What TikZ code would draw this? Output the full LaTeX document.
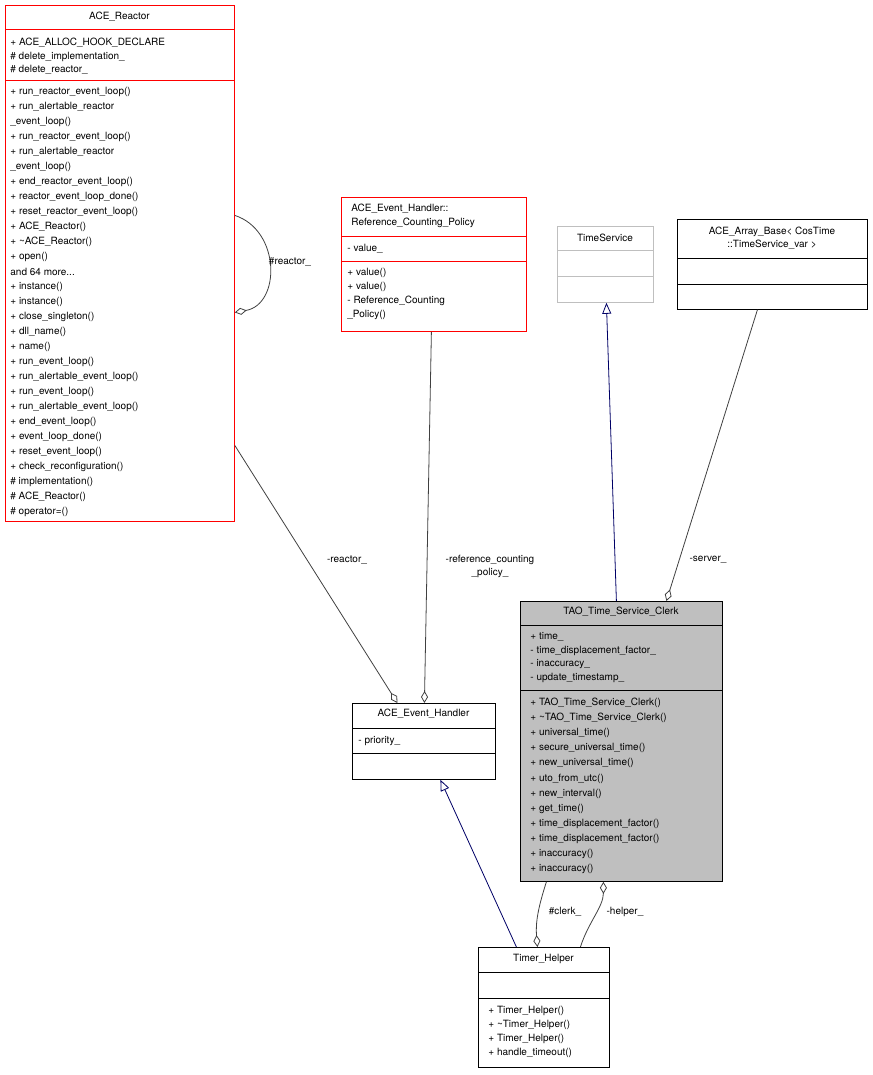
\documentclass[tikz,border=0pt]{standalone}
\usepackage{fontspec}
\setmainfont{TeX Gyre Heros}
\usetikzlibrary{arrows.meta,calc}

\tikzset{
  cls/.style={draw, rectangle, anchor=north west, inner sep=0pt},
  mem/.style={anchor=west, inner sep=0pt, font=\fontsize{10}{11}\selectfont},
  ttl/.style={anchor=center, inner sep=0pt, align=center, font=\fontsize{10}{13.5}\selectfont},
  lbl/.style={inner sep=0pt, align=center, font=\fontsize{10}{13}\selectfont},
  assoc/.style={draw=black!75, -{Diamond[open,length=12pt,width=7pt]}},
  inherit/.style={draw=blue!40!black, -{Triangle[open,length=11pt,width=9pt]}},
}
\newcommand{\andmore}{and 64 more...}

\begin{document}
\begin{tikzpicture}[x=1pt,y=-1pt,line width=0.8pt]
\useasboundingbox (0,0) rectangle (872,1075);

% ACE_Reactor
\node[cls, draw=red, minimum width=229pt, minimum height=516pt] (reactor) at (5,5) {};
\node[ttl] (reactorT) at (119.5,17) {ACE\_Reactor};
\draw[red] (5,29) -- (234,29) (5,80) -- (234,80);
\foreach \t [count=\i from 0] in {+ ACE\_ALLOC\_HOOK\_DECLARE, \# delete\_implementation\_, \# delete\_reactor\_}
  \node[mem] at (10,43+13.5*\i) {\t};
\foreach \t [count=\i from 0] in {+ run\_reactor\_event\_loop(), + run\_alertable\_reactor, \_event\_loop(),
  + run\_reactor\_event\_loop(), + run\_alertable\_reactor, \_event\_loop(), + end\_reactor\_event\_loop(),
  + reactor\_event\_loop\_done(), + reset\_reactor\_event\_loop(), + ACE\_Reactor(), + \textasciitilde ACE\_Reactor(),
  + open(), \andmore, + instance(), + instance(), + close\_singleton(), + dll\_name(), + name(),
  + run\_event\_loop(), + run\_alertable\_event\_loop(), + run\_event\_loop(), + run\_alertable\_event\_loop(),
  + end\_event\_loop(), + event\_loop\_done(), + reset\_event\_loop(), + check\_reconfiguration(),
  \# implementation(), \# ACE\_Reactor(), \# operator=()}
  \node[mem] at (10,92+15*\i) {\t};

% Reference_Counting_Policy
\node[cls, draw=red, minimum width=185pt, minimum height=134pt] (policy) at (341,197) {};
\node[mem] at (351,209) {ACE\_Event\_Handler::};
\node[mem] at (351,223) {Reference\_Counting\_Policy};
\draw[red] (341,236) -- (526,236) (341,261) -- (526,261);
\node[mem] at (347,249) {- value\_};
\foreach \t [count=\i from 0] in {+ value(), + value(), - Reference\_Counting, \_Policy()}
  \node[mem] at (347,273+14*\i) {\t};

% TimeService
\node[cls, draw=black!25, minimum width=96pt, minimum height=76pt] (timesvc) at (557,226) {};
\node[ttl] at (605,238) {TimeService};
\draw[black!25] (557,250) -- (653,250) (557,276) -- (653,276);

% ACE_Array_Base
\node[cls, minimum width=190pt, minimum height=90pt] (array) at (677,219) {};
\node[ttl] at (772,238) {ACE\_Array\_Base< CosTime\\::TimeService\_var >};
\draw (677,258) -- (867,258) (677,284) -- (867,284);

% TAO_Time_Service_Clerk
\node[cls, fill=black!25, minimum width=202pt, minimum height=280pt] (clerk) at (520,601) {};
\node[ttl] at (621,612) {TAO\_Time\_Service\_Clerk};
\draw (520,625) -- (722,625) (520,690) -- (722,690);
\foreach \t [count=\i from 0] in {+ time\_, - time\_displacement\_factor\_, - inaccuracy\_, - update\_timestamp\_}
  \node[mem] at (530,637+13.7*\i) {\t};
\foreach \t [count=\i from 0] in {+ TAO\_Time\_Service\_Clerk(), + \textasciitilde TAO\_Time\_Service\_Clerk(),
  + universal\_time(), + secure\_universal\_time(), + new\_universal\_time(), + uto\_from\_utc(),
  + new\_interval(), + get\_time(), + time\_displacement\_factor(), + time\_displacement\_factor(),
  + inaccuracy(), + inaccuracy()}
  \node[mem] at (530,703+15.1*\i) {\t};

% ACE_Event_Handler
\node[cls, minimum width=143pt, minimum height=76pt] (handler) at (352,703) {};
\node[ttl] at (423.5,714) {ACE\_Event\_Handler};
\draw (352,728) -- (495,728) (352,753) -- (495,753);
\node[mem] at (358,741) {- priority\_};

% Timer_Helper
\node[cls, minimum width=131pt, minimum height=120pt] (helper) at (478,947) {};
\node[ttl] at (543.5,959) {Timer\_Helper};
\draw (478,972) -- (609,972) (478,998) -- (609,998);
\foreach \t [count=\i from 0] in {+ Timer\_Helper(), + \textasciitilde Timer\_Helper(), + Timer\_Helper(), + handle\_timeout()}
  \node[mem] at (488,1011+14*\i) {\t};

% connectors
\draw[assoc] ([yshift=48pt]reactor.east) .. controls +(46pt,-15pt) and +(46pt,8pt) .. ([yshift=-49pt]reactor.east);
\node[lbl] (lreactorself) at (290,262) {\#reactor\_};
\draw[assoc] ([yshift=-182pt]reactor.east) -- ([xshift=-26.5pt]handler.north);
\node[lbl] (lreactor) at (347,560) {-reactor\_};
\draw[assoc] ([xshift=-2.5pt]policy.south) -- ([xshift=0.5pt]handler.north);
\node[lbl] (lpolicy) at (490,566) {-reference\_counting\\\_policy\_};
\draw[inherit] ([xshift=-5pt]clerk.north) -- ([xshift=1pt]timesvc.south);
\draw[assoc] ([xshift=-15pt]array.south) -- ([xshift=45pt]clerk.north);
\node[lbl] (lserver) at (708,560) {-server\_};
\draw[inherit] ([xshift=-27.5pt]helper.north) -- ([xshift=16.5pt]handler.south);
\draw[assoc] ([xshift=-75pt]clerk.south) .. controls +(-8pt,-25pt) and +(-2pt,25pt) .. ([xshift=-6.5pt]helper.north);
\node[lbl] (lclerk) at (565,912) {\#clerk\_};
\draw[assoc] ([xshift=36.5pt]helper.north) .. controls +(8pt,25pt) and +(0pt,-25pt) .. ([xshift=-18pt]clerk.south);
\node[lbl] (lhelper) at (625,912) {-helper\_};
\end{tikzpicture}
\end{document}
